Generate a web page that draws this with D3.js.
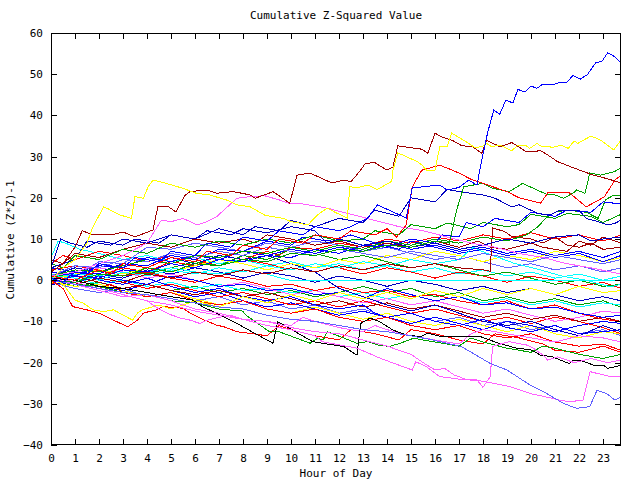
<!DOCTYPE html>
<html><head><meta charset="utf-8">
<script src="https://cdn.jsdelivr.net/npm/d3@7"></script>
<style>
body{margin:0;background:#fff}
text{font-family:"DejaVu Sans Mono",monospace;font-size:11px;fill:#000}
</style>
</head><body>
<svg id="c" width="640" height="480"></svg>
<script>
const titleText = "Cumulative Z-Squared Value";
const xLabel = "Hour of Day";
const yLabel = "Cumulative (Z*Z)-1";
const xTickValues = [0,1,2,3,4,5,6,7,8,9,10,11,12,13,14,15,16,17,18,19,20,21,22,23];
const yTickValues = [-40,-30,-20,-10,0,10,20,30,40,50,60];

// series: [hour, cumulative value]
const blueTop = [[0,0.5],[0.5,-0.5],[1,2],[1.5,1.5],[2,4],[3,3],[3.5,5.5],[4.5,4.5],[5,7],[6,6],[6.5,9],[7.5,8],[8,10.5],[9,9.5],[9.5,12],[10.5,11],[11,13],[12,12],[12.5,13],[13.2,15.1],[13.6,18.3],[14.8,15.1],[15.05,22.4],[16.2,23.1],[16.5,21.9],[17,22.5],[17.4,24.3],[17.75,23.1],[17.95,29.2],[18.2,36],[18.45,41.3],[18.7,40.3],[18.95,43.7],[19.25,43],[19.45,46.3],[19.75,45.7],[20,47.1],[20.25,46.6],[20.5,47.6],[21,47.6],[21.25,48.1],[21.5,48.1],[21.75,49.7],[22.05,48.8],[22.35,49.9],[22.7,52.8],[22.95,53.1],[23.2,55.2],[23.5,54.2],[23.75,52.8]];
const darkRedTop = [[0,2],[0.5,4],[1,8],[1.3,12],[1.75,11],[2.5,11],[3,11.7],[3.5,10.5],[4.25,12.2],[4.45,17.8],[4.9,17.8],[5.2,16.6],[5.6,20.7],[5.8,21.5],[6.5,21.9],[6.9,21.1],[7.6,21.5],[8.3,20.7],[8.5,19.9],[8.9,20.7],[9.25,21.5],[9.95,18.7],[10.25,25.5],[10.8,26.0],[11.7,23.6],[12.2,24.3],[12.5,23.9],[12.9,26.7],[13.1,28.4],[13.5,28.5],[14,26.7],[14.25,27.5],[14.45,32.6],[14.95,32.2],[15.45,31.8],[15.7,30.8],[16,35.7],[16.3,34.7],[16.7,34],[17.1,32.7],[17.6,32.3],[17.95,30.8],[18.15,34],[18.7,32.4],[19.2,33.4],[19.4,32.7],[19.8,31.2],[20.4,31.4],[20.7,30.4],[21.1,28.8],[21.8,27.2],[22.6,25.5],[23.2,24.6],[23.75,23.6]];
const yellowTop = [[0,0],[0.5,3],[1,5],[1.5,9],[1.75,13],[2.2,17.8],[2.35,17.4],[2.9,15.8],[3.35,15],[3.5,20.3],[3.85,19.9],[4.05,22.7],[4.25,24.3],[4.8,23.5],[5.5,22.3],[6.05,21.1],[6.6,20.7],[7.3,19.5],[7.75,18.3],[8.3,17.8],[8.9,15.8],[9.25,15.4],[9.7,15],[10,14.2],[10.3,13.9],[10.7,13.4],[11.1,15.8],[11.5,17.5],[11.9,16.3],[12.35,15.1],[12.45,22.7],[12.75,22.4],[13.2,23.1],[13.6,22],[14.2,24],[14.25,26.7],[14.45,30.9],[14.65,30.4],[14.95,29.6],[15.25,28.8],[15.45,28],[15.65,26.7],[16,26.7],[16.2,32.4],[16.5,32.4],[16.7,35.7],[16.95,34.8],[17.3,33.6],[17.65,32.2],[17.95,32.4],[18.15,33.2],[18.35,32.4],[18.7,32.8],[19.2,31.4],[19.45,32.8],[19.75,32.8],[19.95,32],[20.25,33.2],[20.45,32.4],[20.95,32.3],[21.25,32.8],[21.55,32],[21.8,33.8],[21.95,33.2],[22.5,35],[22.9,34],[23.45,31.6],[23.75,34]];
const redJump = [[0,1],[1,0],[2,2.5],[2.5,1.5],[3,4],[4,3],[5,5.5],[6,4.5],[6.5,7],[7.5,6],[8,8.5],[9,7.5],[9.5,10],[10.5,9],[11,11],[12,10],[12.5,12],[13.5,11],[14,12.5],[14.4,10.5],[14.8,13.4],[15.05,22.6],[15.45,26.7],[16.2,27.9],[16.6,27],[17,26],[17.5,24.5],[18,23.5],[18.5,22.5],[19,21.5],[19.5,20],[20.4,18.7],[20.7,21.2],[21.6,21.2],[22.3,17.8],[23.05,20.2],[23.5,24.3],[23.75,25.5]];
const greenJump = [[0,0],[1,-0.5],[2,1.5],[3,1],[4,3],[5,2],[6,4],[7,3.5],[8,5],[9,4.5],[10,6.5],[11,6],[12,7.5],[13,7],[14,8.5],[15,8],[16,9.5],[16.6,9],[16.9,17],[17.2,22.7],[18,23.5],[18.4,22.3],[19.1,21.5],[19.65,23.5],[19.95,22.7],[20.4,21.5],[20.7,20.7],[21,20.7],[21.35,19.9],[21.75,21.1],[21.9,21.9],[22.25,21.1],[22.45,26],[22.9,25.5],[23.45,26.3],[23.75,27.2]];
const navyHigh = [[0,3],[1,5],[1.5,9.5],[2.5,8.5],[3,10],[4,9],[5,11],[6,10],[7,12.5],[8,11],[8.5,13],[9.5,12],[10,14.5],[11,13],[12,15],[13,14],[13.5,17],[14.5,15.5],[15,20],[16,19],[16.5,22],[17.5,21.1],[18,20.7],[18.5,19.9],[19.2,17.8],[19.5,18.3],[20.3,16.2],[20.8,15.8],[21.2,17],[22,17],[22.3,15],[22.8,14.2],[23.2,13.4],[23.5,13.8],[23.75,14.6]];
const blueMid1 = [[0,-0.5],[1,1],[2,0.5],[3,2.5],[4,2],[5,4],[6,3],[7,5],[8,4.5],[9,6],[10,5.5],[11,7.5],[12,6.5],[13,8.5],[14,8],[15,10],[16,9],[16.3,11],[17,10.5],[17.3,14],[18,13],[18.5,15],[19.5,14],[20,16.5],[21,15.5],[21.5,17],[22.5,16.5],[23,19],[23.75,18.5]];
const greenMid1 = [[0,4],[0.5,3],[1,6],[2,5],[3,7.5],[4,6.5],[5,9],[6,8],[7,9.5],[8,8.5],[9,10],[10,9],[11,11],[12,9.5],[13,10],[13.5,12],[14.5,11],[15,13.5],[16,12.5],[16.5,13.9],[17.5,12.5],[18,14],[19,13],[19.5,13.5],[20,16],[21,15],[21.5,16.2],[22.5,15.5],[23,14],[23.75,16]];
const greenMid2 = [[0,1],[1,2.5],[2,2],[3,3.5],[4,5],[5,4],[6,6],[7,5.5],[8,7],[9,6.5],[10,8],[11,7],[12,8.5],[13,7.5],[14,9.5],[15,8.5],[16,10],[17,9],[18,10.5],[19,9.5],[19.8,11],[20.3,13],[20.6,15],[21,16.5],[21.5,17],[22.3,16.5],[22.8,15],[23.1,19.5],[23.4,20.5],[23.75,20.5]];
const darkRedMid1 = [[0,5],[0.5,4],[1,6.5],[2,5.5],[3,7.5],[4,9],[5,8],[6,10],[7,9],[8,10],[8.5,9],[9,11],[10,10],[11,8.5],[12,9.5],[13,8],[14,9],[15,8],[16,9.5],[17,8],[17.8,9.5],[18.3,8],[19,7.5],[20,9],[20.5,8],[21.5,7],[22,9.5],[22.5,8.5],[23,10.5],[23.75,9]];
const darkRedMid2 = [[0,0],[1,-1],[2,0.5],[3,-0.5],[4,1.5],[5,0.5],[6,2],[7,1],[8,2.5],[9,1.5],[10,3],[11,2],[12,3.5],[13,2.5],[14,4],[15,3],[16,4],[17,3],[18,2.5],[18.3,2.2],[18.4,12.7],[18.9,11.8],[19.2,10.6],[20,10],[20.5,9],[21,10.5],[21.5,8.5],[22,8],[22.5,9],[23,7.5],[23.75,8]];
const redMid1 = [[0,-1],[1,1.5],[2,1],[3,3],[4,2],[5,4.5],[6,3.5],[7,6],[8,5],[9,7],[9.5,6],[10,8],[11,7.5],[12,9],[13,8],[14,10],[15,9],[16,10.5],[17,9.5],[18,11],[19,10],[20,11.5],[21,10],[22,11],[23,9.5],[23.75,11]];
const blueMid2 = [[0,2],[1,1],[2,3.5],[3,3],[4,5.5],[5,4.5],[6,6],[7,5],[8,7],[9,6],[10,7.5],[11,6.5],[12,8],[13,7],[14,9],[15,7.5],[16,8.5],[17,7],[18,8],[19,6.5],[20,7.5],[21,6],[22,7],[23,5.5],[23.75,7]];
const slateMid1 = [[0,1],[1,3.5],[2,3],[3,5],[4,4.5],[5,6.5],[6,5.5],[7,7],[8,6],[9,8],[10,7],[11,6],[12,7.5],[13,6.5],[14,5.5],[15,7],[16,6],[17,5],[18,6.5],[19,5.5],[20,4.5],[21,6],[22,5],[23,4],[23.75,5]];
const cyanFlat = [[0,0.5],[1,1.5],[2,1],[3,2.5],[4,2],[5,3],[6,2],[7,1.5],[8,2.5],[9,1.5],[9.6,0.5],[9.95,0],[23.75,0]];
const cyanMid1 = [[0,0],[1,1],[2,0],[3,2],[4,1],[5,2.5],[6,1.5],[7,3],[8,2],[9,3.5],[10,2.5],[11,4],[12,3],[13,4.5],[14,3.5],[15,5],[16,4],[17,5],[17.6,8],[18,6.9],[19.3,4.1],[20.4,2.5],[21.35,0.9],[22.3,0],[23.3,-1.6],[23.75,-1]];
const cyanMid2 = [[0,1.5],[1,0.5],[2,-1],[3,0],[4,-1.5],[5,-0.5],[6,-2],[7,-1],[8,-2.5],[9,-2],[10,-3],[11,-2.5],[12,-4],[13,-3],[14,-4.5],[15,-3.5],[16,-5],[17,-4],[18,-5.5],[19,-4.5],[20,-6],[21,-5],[22,-6.5],[23,-5.5],[23.75,-6]];
const cyanMid3 = [[0,5.5],[0.3,9.5],[0.6,9],[1.2,7.5],[2,6.5],[3,5],[4,6],[5,4.5],[6,5.5],[7,4],[8,5],[9,3.5],[10,4.5],[11,3],[12,4],[13,2.5],[14,3.5],[15,2],[16,3],[17,1.5],[18,2.5],[19,1],[20,2],[21,0.5],[22,1.5],[23,0],[23.75,1]];
const redLow1 = [[0,0],[1,-1],[2,-2],[2.5,-1],[3,-3],[4,-4],[5,-3],[6,-5],[7,-6],[8,-5],[9,-7],[10,-8],[11,-7],[12,-9],[13,-10],[14,-9],[15,-11],[16,-12],[17,-11],[18,-13],[19,-14],[20,-13],[21,-15],[22,-16],[23,-15.5],[23.75,-17]];
const redLow2 = [[0,0],[0.5,-2],[0.9,-6.4],[1.5,-7.2],[2,-8],[2.75,-10.1],[3.2,-11.3],[3.4,-10.5],[3.6,-9.7],[3.85,-8],[4.1,-7.6],[4.4,-7.2],[4.65,-6.4],[5.5,-6.8],[5.8,-8],[6.1,-8.9],[6.4,-9.7],[6.9,-10.9],[7.2,-11.3],[7.75,-12.5],[8.3,-12.9],[9,-13.5],[9.5,-11],[10,-12],[11,-13.5],[12,-14.5],[12.5,-12],[13.5,-13],[14.5,-14.5],[15,-12],[16,-13],[17,-14.5],[18,-15.5],[18.5,-13],[19.5,-14],[20.5,-15.5],[21,-17],[22,-17.5],[23,-16],[23.75,-17.5]];
const yellowLow = [[0,0.5],[0.5,-1],[1,-4.8],[1.35,-5.6],[1.75,-7.2],[2.2,-7.6],[2.6,-7.2],[3.4,-9.7],[3.6,-8],[3.8,-7.2],[4.5,-6],[5,-7],[6,-5],[7,-6.5],[8,-4],[9,-5.5],[10,-3.5],[11,-5],[12,-3],[13,-4.5],[14,-3],[15,-4.5],[16,-2.5],[17,-4],[18,-2],[19,-3.5],[20,-2],[21,-3.5],[22,-1.5],[23,-3],[23.75,-2.5]];
const magentaLow1 = [[0,1],[1,-0.5],[2,-2],[3,-3.5],[4,-5],[4.5,-7],[5,-8.4],[5.4,-9.2],[5.8,-9.7],[6.2,-10.5],[6.5,-9.7],[7,-9],[7.5,-8.5],[8,-9.5],[9,-10],[10,-11],[10.5,-9],[11,-10],[12,-11.5],[13,-12.5],[13.5,-11],[14,-12],[15,-13.5],[16,-14.5],[17,-15.5],[17.5,-13],[18,-12],[19,-13],[20,-14],[21,-15],[22,-13.5],[23,-14],[23.75,-15]];
const magentaLow2 = [[0,0],[1,-1],[2,-2.5],[3,-4],[4,-3.5],[5,-5],[6,-7],[7,-8],[8,-9.5],[9,-10],[10,-11.5],[11,-12.5],[12,-13],[13,-14.5],[14,-16],[15,-18],[15.5,-20],[16,-21.8],[16.4,-21.4],[16.8,-23],[17.35,-24.2],[17.75,-24.2],[18,-26],[18.3,-23.4],[18.4,-16.1],[18.6,-15.7],[19.1,-14.9],[19.4,-15.3],[19.8,-15.7],[20.1,-16.5],[20.5,-18.2],[20.7,-19.4],[21.1,-18.6],[21.8,-20],[22.5,-19],[23.2,-20],[23.75,-19.4]];
const magentaLow3 = [[0,0.5],[1,-1],[2,-2],[3,-3.5],[4,-5],[5,-6],[6,-7.5],[7,-8.5],[8,-9.5],[9,-11],[10,-12],[11,-13.5],[11.3,-14.9],[12,-15.7],[12.75,-16.5],[13.7,-18.9],[14.25,-20.1],[15.05,-21.8],[15.2,-19.8],[15.65,-21],[16.2,-23.4],[17,-24],[18,-24.5],[19.1,-25.8],[19.96,-27.5],[20.6,-28.3],[21.2,-29.1],[21.6,-29.5],[22.17,-29.1],[22.46,-22.2],[23.3,-23.4],[23.75,-23.4]];
const slateLow = [[0,0],[1,-1],[2,-2],[3,-3],[4,-3.5],[5,-4.5],[6,-5.5],[7,-6.5],[8,-7],[9,-8.5],[10,-9.5],[11,-10],[12,-11],[13,-12],[14,-12.5],[15,-13.5],[15.9,-14.5],[17.1,-16.1],[18.3,-20.2],[19,-21.8],[19.95,-25.4],[20.65,-27.5],[21.35,-29.9],[21.9,-31.1],[22.45,-30.7],[22.75,-26.7],[23.15,-27.5],[23.5,-29.1],[23.75,-28.3]];
const blackLow = [[0,0.5],[1,0],[2,-1.5],[3,-2],[4,-3],[5,-4],[5.9,-4.8],[6.3,-6.4],[7.2,-8.9],[7.75,-10.5],[8.3,-12.3],[9.25,-15.3],[9.45,-10.1],[10.9,-14.9],[11.3,-15.3],[11.75,-15.7],[12.2,-16.1],[12.75,-18.2],[12.9,-10.5],[13.3,-9.2],[13.7,-10.1],[14.25,-12.1],[14.8,-13.3],[15.4,-13.7],[15.7,-12.9],[16.3,-13.7],[17.9,-13.7],[18.6,-15.2],[19.4,-16.5],[20,-16.9],[20.4,-18.2],[20.9,-18.6],[21.4,-19.8],[21.6,-20.2],[21.75,-19.4],[22.05,-19.4],[22.6,-20.6],[23,-20.6],[23.2,-21.4],[23.5,-21],[23.75,-20.6]];
const greenLow = [[0,0],[1,-1],[2,-1.5],[3,-3],[4,-3.5],[5,-5],[6,-5.5],[7,-7],[8,-7.5],[8.1,-8.4],[9.1,-12.5],[9.5,-12.5],[10.8,-15.3],[11.1,-14.1],[11.35,-14.5],[11.5,-12.5],[12.05,-13.7],[12.75,-15.3],[13.2,-14.9],[13.6,-15.7],[14.1,-16.1],[14.55,-15.3],[15.1,-14.1],[16,-15],[17,-16],[17.5,-14],[18,-15],[19,-16.5],[20,-17.5],[20.5,-16],[21,-16.5],[22,-18],[23,-19],[23.75,-18]];
const blueLow1 = [[0,0],[1,-0.5],[2,1],[3,0],[4,-1],[5,1],[6,0],[7,-1.5],[8,-1],[9,-2.5],[10,-2],[11,-3.5],[12,-3],[13,-4.5],[14,-2],[15,-3.5],[16,-5],[17,-4],[18,-6],[19,-5.5],[20,-7],[21,-6.5],[22,-8],[23,-9],[23.75,-8.5]];
const blueLow2 = [[0,3],[1,2],[2,0],[3,-1],[4,0.5],[5,-1.5],[6,-3],[7,-2],[8,-4],[9,-5],[10,-4],[11,-6],[12,-7],[13,-6],[13.5,-8],[14,-9],[15,-8],[16,-10],[17,-11],[18,-9.5],[19,-11.5],[20,-12.5],[21,-11],[22,-13],[23,-12.5],[23.75,-12]];
const navyDown = [[0,1],[1,3],[2,2],[3,4],[4,3],[5,5.5],[6,4],[7,6],[8,5],[9,6],[10,4],[11,2],[11.5,0],[12,-2],[13,-4],[14,-6],[15,-7.5],[16,-6],[17,-8],[18,-10],[19,-11],[20,-10],[21,-12],[22,-13.5],[23,-11],[23.75,-12.5]];
const redMid2 = [[0,2.5],[1,3.5],[2,2.5],[3,1],[4,2],[5,0.5],[6,-0.5],[7,1],[8,0],[9,-1.5],[10,-1],[11,-2.5],[12,-1.5],[13,-3],[14,-2.5],[15,-4],[16,-3.5],[17,-5],[18,-6],[19,-5],[20,-7],[21,-6],[22,-8],[23,-9.5],[23.75,-10]];
const redMid3 = [[0,4],[0.5,6],[1,5],[2,7],[3,6],[4,4.5],[5,6],[6,5],[7,3.5],[8,5],[9,4],[10,2.5],[11,4],[12,3],[13,1.5],[14,3],[15,2],[16,0.5],[17,2],[18,1],[19,-0.5],[20,1],[21,0],[22,-1.5],[23,-0.5],[23.75,-2]];
const slateMid2 = [[0,-0.5],[1,-2],[2,-3],[3,-2],[4,-4],[5,-3],[6,-5],[7,-4],[8,-6],[9,-5],[10,-7],[11,-6],[12,-8],[13,-7],[14,-9],[15,-8],[16,-10],[17,-9],[18,-11],[19,-10],[20,-12],[21,-11],[22,-13],[23,-12],[23.75,-13.5]];
const slateMid3 = [[0,2],[1,1],[2,4.5],[3,4],[4,8],[5,7.5],[6,9],[7,8],[8,7],[9,9],[10,8],[11,9.5],[12,8.5],[13,7],[14,8],[15,6.5],[16,5],[17,6],[18,4.5],[19,3],[20,4],[21,2.5],[22,3.5],[23,2],[23.75,3]];
const greenMid3 = [[0,0.5],[1,2],[2,1],[3,2.5],[4,1.5],[5,3],[6,4.5],[7,3.5],[8,6],[9,5],[10,7.5],[11,6.5],[12,5],[13,6],[14,4.5],[15,3],[16,4],[17,2.5],[18,1],[19,2],[20,0.5],[21,-1],[22,0],[23,-1.5],[23.75,-1]];
const yellowMid = [[0,0],[1,1.5],[2,2.5],[3,1.5],[4,3],[5,2],[6,3.5],[7,5],[8,4],[9,2.5],[10,4],[11,3],[12,5],[13,4],[14,6],[15,5],[16,7],[17,6],[18,4.5],[19,6],[20,5],[21,7],[22,6],[23,4.5],[23.75,5.5]];
const yellowMid2 = [[0,-0.5],[1,-1.5],[2,-1],[3,-2.5],[4,-4],[5,-3],[6,-4.5],[7,-6],[8,-5],[9,-7],[10,-8],[11,-6.5],[12,-8],[13,-9.5],[14,-8],[15,-10],[16,-11],[17,-9.5],[18,-11],[19,-12.5],[20,-11],[21,-13],[22,-14],[23,-12.5],[23.75,-13]];
const blueLow3 = [[0,1],[1,0],[2,-1.5],[3,-2.5],[4,-1],[5,-2.5],[6,-4],[7,-3],[8,-5],[9,-6.5],[10,-5.5],[11,-7],[12,-8.5],[13,-7.5],[14,-9],[15,-10.5],[16,-9],[17,-10.5],[18,-12],[19,-10],[20,-11],[21,-12.5],[22,-11],[23,-10],[23.75,-10.5]];
const redLow3 = [[0,0],[1,-1],[2,0.5],[3,-0.5],[4,-2],[5,-1],[6,-2.5],[7,-4],[8,-3],[9,-4.5],[10,-6],[11,-5],[12,-6.5],[13,-5],[14,-6.5],[15,-8],[16,-7],[17,-8.5],[18,-10],[19,-9],[20,-10.5],[21,-9],[22,-10],[23,-11.5],[23.75,-13]];
const navyMid = [[0,-1],[1,-0.5],[2,1.5],[3,0.5],[4,2.5],[5,1.5],[6,3],[7,2],[8,0.5],[9,2],[10,1],[11,-0.5],[12,1],[13,0],[14,-1.5],[15,0],[16,-1],[17,-2.5],[18,-1.5],[19,-3],[20,-2],[21,-3.5],[22,-5],[23,-4],[23.75,-5]];
const magentaMid = [[0,2],[1,1],[2,3],[3,2],[4,0.5],[5,1.5],[6,0],[7,-1.5],[8,-0.5],[9,-2],[10,-3.5],[11,-2.5],[12,-4],[13,-5.5],[14,-4.5],[15,-6],[16,-5],[17,-6.5],[18,-8],[19,-7],[20,-8.5],[21,-10],[22,-9],[23,-7.5],[23.75,-8]];
const darkRedLow = [[0,0],[1,1],[2,-0.5],[3,-2],[4,-1],[5,-2.5],[6,-3.5],[7,-2.5],[8,-4],[9,-3],[10,-4.5],[11,-6],[12,-5],[13,-6.5],[14,-5.5],[15,-7],[16,-6],[17,-7.5],[18,-9],[19,-8],[20,-9.5],[21,-8.5],[22,-10],[23,-9],[23.75,-10]];
const magentaHigh = [[0,1],[1,2],[2,4],[3,6],[4,9],[4.6,14.6],[5,14.2],[5.5,15],[6.1,13.4],[6.5,14.2],[6.9,15.4],[7.05,16.2],[7.75,19.9],[8.3,20.3],[8.9,20.5],[9.5,19.5],[10,18.5],[10.5,18.5],[11.5,17.5],[12.5,16],[13.5,14.5],[14.5,13],[15.5,12],[16.5,10.5],[17.5,9],[18.5,8],[19.5,6.5],[20.5,5.5],[21.5,4],[22.5,3],[23.75,1.5]];
const navyEarly = [[0,3],[0.4,10],[0.8,9],[1.5,8],[2,9.5],[3,8.5],[3.5,10],[4.5,9],[5,11],[6,10],[6.5,12],[7.5,11],[8,12.5],[9,11.5],[10,13],[11,12],[11.5,9],[12,10],[13,8.5],[14,9.5],[15,8],[16,9],[17,7.5],[18,8.5],[19,10],[20,9],[21,10.5],[22,11],[22.5,9.5],[23,10],[23.75,10.5]];
const greenMid4 = [[0,0],[1,-1.5],[2,-0.5],[3,-2],[4,-1],[5,-2.5],[6,-1.5],[7,-3],[8,-2],[9,-3.5],[10,-2.5],[11,-4],[12,-3],[13,-1.5],[14,-3],[15,-2],[16,-4],[17,-3],[18,-5],[19,-4],[20,-5.5],[21,-4.5],[22,-6],[23,-5],[23.75,-6.5]];
const blueMid3 = [[0,0],[1,2],[2,1.5],[3,4],[4,3.5],[5,6],[6,5],[7,7.5],[8,7],[9,9.5],[10,8.5],[10.5,10.5],[11.5,9.5],[12.5,11],[13.5,9],[14.5,7.5],[15,9.5],[16,8],[17,6.5],[18,7.5],[19,6],[20,7],[21,5.5],[22,6.5],[23,4.5],[23.75,6]];

const seriesData = [redMid1, greenMid4, cyanMid2, slateMid2, yellowMid2, blueLow3, redLow3, navyMid, magentaMid, darkRedLow,
  cyanMid3, redMid3, redMid2, blueLow1, blueLow2, navyDown, slateMid3, greenMid3, yellowMid, blueMid3,
  cyanMid1, cyanFlat, blueMid2, slateMid1, darkRedMid1, darkRedMid2, greenMid1, greenMid2, navyEarly, blueMid1,
  magentaHigh, navyHigh, redLow1, redLow2, yellowLow, magentaLow1, greenLow, blackLow, magentaLow2, magentaLow3, slateLow,
  greenJump, redJump, darkRedTop, yellowTop, blueTop];
const seriesColors = ["#ff0000","#00a000","#00ffff","#6060ff","#ffff00","#0000ff","#ff0000","#0000c0","#ff60ff","#a00000",
  "#00ffff","#ff0000","#ff0000","#0000ff","#0000ff","#0000c0","#6060ff","#00a000","#ffff00","#0000ff",
  "#00ffff","#00ffff","#0000ff","#6060ff","#a00000","#a00000","#00a000","#00a000","#0000c0","#0000ff",
  "#ff60ff","#0000c0","#ff0000","#ff0000","#ffff00","#ff60ff","#00a000","#000000","#ff60ff","#ff60ff","#6060ff",
  "#00a000","#ff0000","#a00000","#ffff00","#0000ff"];

const svg = d3.select("#c");
const L = 51, R = 621, T = 33, B = 445;
const x = d3.scaleLinear().domain([0, 23.75]).range([L, R]);
const y = d3.scaleLinear().domain([-40, 60]).range([B, T]);

svg.append("rect").attr("width",640).attr("height",480).attr("fill","#fff");
svg.append("defs").append("clipPath").attr("id","clip")
  .append("rect").attr("x",L).attr("y",T).attr("width",R-L).attr("height",B-T);

const line = d3.line().x(d => x(d[0])).y(d => y(d[1]));
const g = svg.append("g").attr("clip-path","url(#clip)");
seriesData.forEach((s, i) => {
  g.append("path").datum(s).attr("d", line)
    .attr("fill","none").attr("stroke", seriesColors[i]).attr("stroke-width",1)
    .attr("shape-rendering","crispEdges");
});

function styleAxis(sel, hideText) {
  sel.select(".domain").remove();
  sel.selectAll(".tick line").attr("stroke","#000").attr("shape-rendering","crispEdges");
  sel.selectAll(".tick text").attr("fill","#000").style("font-family",'"DejaVu Sans Mono",monospace').style("font-size","11px");
  if (hideText) sel.selectAll(".tick text").remove();
}
svg.append("g").attr("transform",`translate(0,${B})`)
  .call(d3.axisBottom(x).tickValues(xTickValues).tickSizeInner(-6).tickSizeOuter(0).tickPadding(9).tickFormat(d3.format("d")))
  .call(s => styleAxis(s,false));
svg.append("g").attr("transform",`translate(0,${T})`)
  .call(d3.axisTop(x).tickValues(xTickValues).tickSizeInner(-6).tickSizeOuter(0))
  .call(s => styleAxis(s,true));
svg.append("g").attr("transform",`translate(${L},0)`)
  .call(d3.axisLeft(y).tickValues(yTickValues).tickSizeInner(-6).tickSizeOuter(0).tickPadding(8).tickFormat(d3.format("d")))
  .call(s => styleAxis(s,false));
svg.append("g").attr("transform",`translate(${R},0)`)
  .call(d3.axisRight(y).tickValues(yTickValues).tickSizeInner(-6).tickSizeOuter(0))
  .call(s => styleAxis(s,true));

svg.append("rect").attr("x",L+0.5).attr("y",T+0.5).attr("width",R-L-1).attr("height",B-T-1)
  .attr("fill","none").attr("stroke","#000").attr("stroke-width",1);

svg.append("text").attr("x",336).attr("y",19).attr("text-anchor","middle").text(titleText);
svg.append("text").attr("x",336).attr("y",477).attr("text-anchor","middle").text(xLabel);
svg.append("text").attr("transform","translate(14,240) rotate(-90)").attr("text-anchor","middle").text(yLabel);
</script>
</body></html>
